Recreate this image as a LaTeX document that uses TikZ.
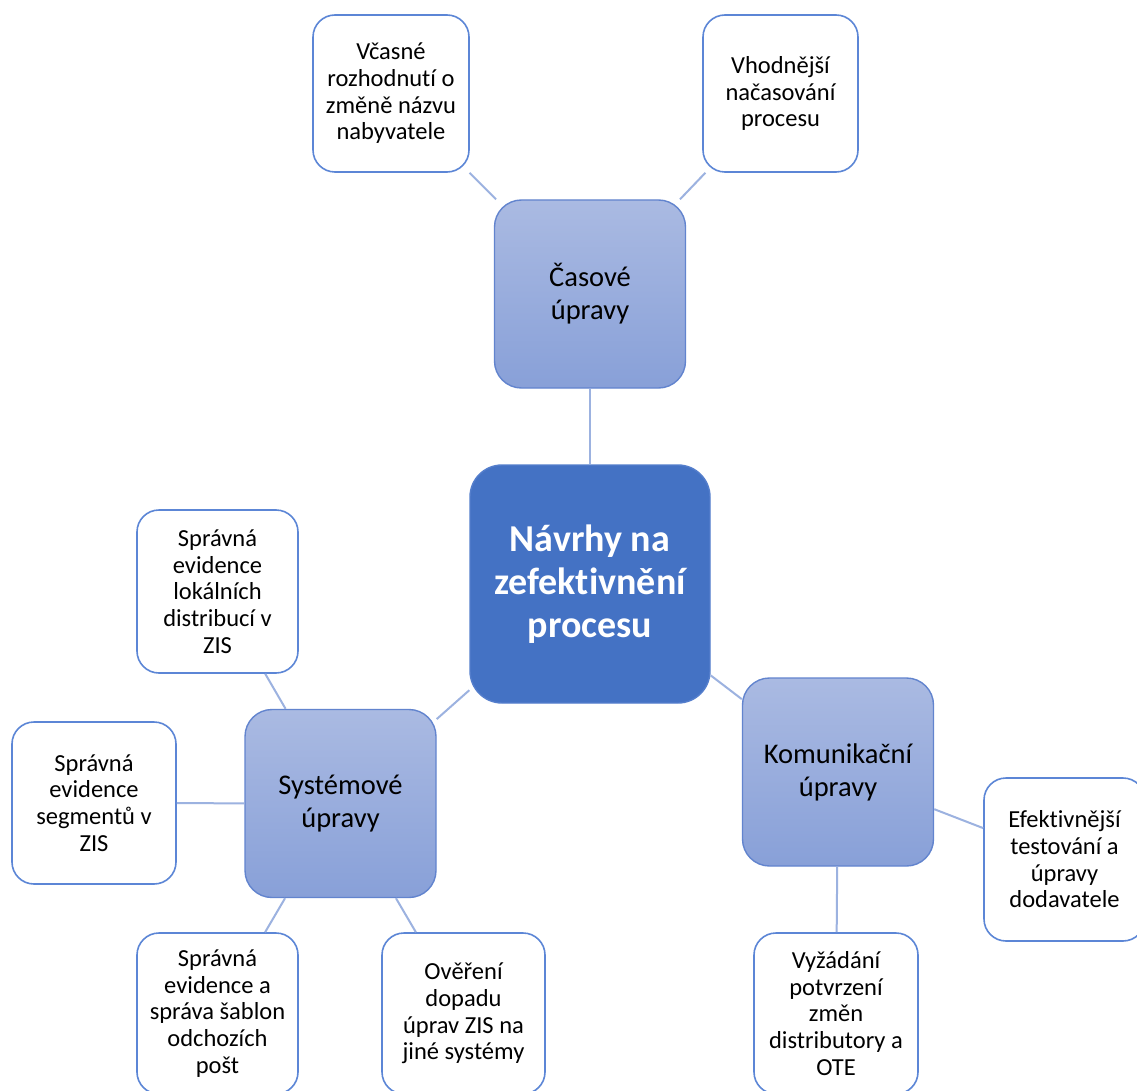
\documentclass[tikz,border=0pt]{standalone}
\usepackage{fontspec}
\setmainfont{Carlito}[Ligatures=NoCommon]
\definecolor{mainblue}{RGB}{68,114,196}
\definecolor{mainedge}{RGB}{84,126,204}
\definecolor{midtop}{RGB}{170,186,226}
\definecolor{midbot}{RGB}{136,160,216}
\definecolor{midedge}{RGB}{98,132,206}
\definecolor{leafedge}{RGB}{92,134,214}
\definecolor{linkcol}{RGB}{156,178,224}
\tikzset{
  leafbox/.style={draw=leafedge, line width=1.6pt, fill=white, rounded corners=22pt,
    inner sep=0pt, align=center, text=black,
    font=\fontsize{24.5}{26.7}\selectfont},
  midbox/.style={draw=midedge, line width=1.4pt, top color=midtop, bottom color=midbot,
    rounded corners=27pt, inner sep=0pt, align=center, text=black,
    minimum width=191pt, minimum height=188pt,
    font=\fontsize{28.5}{33}\selectfont},
  mainbox/.style={draw=mainedge, line width=1.4pt, fill=mainblue, rounded corners=32pt,
    inner sep=0pt, align=center, text=white,
    minimum width=240pt, minimum height=238pt,
    font=\fontsize{38}{43}\selectfont\bfseries},
  link/.style={draw=linkcol, line width=2pt}
}
\begin{document}
\begin{tikzpicture}[x=1pt,y=-1pt]
\path[use as bounding box, clip] (0,0) rectangle (1137,1091);
\fill[white] (0,0) rectangle (1137,1091);

\node[mainbox] (main) at (590,584) {\raisebox{0pt}{}Návrhy na\\zefektivnění\\procesu};
\node[midbox] (cas) at (590,294) {Časové\\úpravy};
\node[midbox] (sys) at (340.5,803.5) {Systémové\\úpravy};
\node[midbox] (kom) at (838,772) {Komunikační\\úpravy};

\node[leafbox, minimum width=156pt, minimum height=157pt] (v1) at (391,93.5)
  {Včasné\\rozhodnutí o\\změně názvu\\nabyvatele};
\node[leafbox, minimum width=155pt, minimum height=157pt] (v2) at (780.5,93.5)
  {Vhodnější\\načasování\\procesu};

\node[leafbox, minimum width=161pt, minimum height=163pt] (s1) at (217.5,591.5)
  {Správná\\evidence\\lokálních\\distribucí v\\ZIS};
\node[leafbox, minimum width=164pt, minimum height=162pt] (s2) at (94,803)
  {Správná\\evidence\\segmentů v\\ZIS};
\node[leafbox, minimum width=161pt, minimum height=161pt] (s3) at (217.5,1013.5)
  {Správná\\evidence a\\správa šablon\\odchozích\\pošt};
\node[leafbox, minimum width=163pt, minimum height=161pt] (s4) at (463.5,1013.5)
  {Ověření\\dopadu\\úprav ZIS na\\jiné systémy};

\node[leafbox, minimum width=161pt, minimum height=163pt] (k1) at (1064.5,859.5)
  {Efektivnější\\testování a\\úpravy\\dodavatele};
\node[leafbox, minimum width=164pt, minimum height=161pt] (k2) at (836,1013.5)
  {Vyžádání\\potvrzení\\změn\\distributory a\\OTE};

\draw[link] (main) -- (cas);
\draw[link] (main) -- (sys);
\draw[link] (main) -- (kom);
\draw[link] (cas) -- (v1);
\draw[link] (cas) -- (v2);
\draw[link] (sys) -- (s1);
\draw[link] (sys) -- (s2);
\draw[link] (sys) -- (s3);
\draw[link] (sys) -- (s4);
\draw[link] (kom) -- (k1);
\draw[link] (kom) -- (k2);
\end{tikzpicture}
\end{document}
